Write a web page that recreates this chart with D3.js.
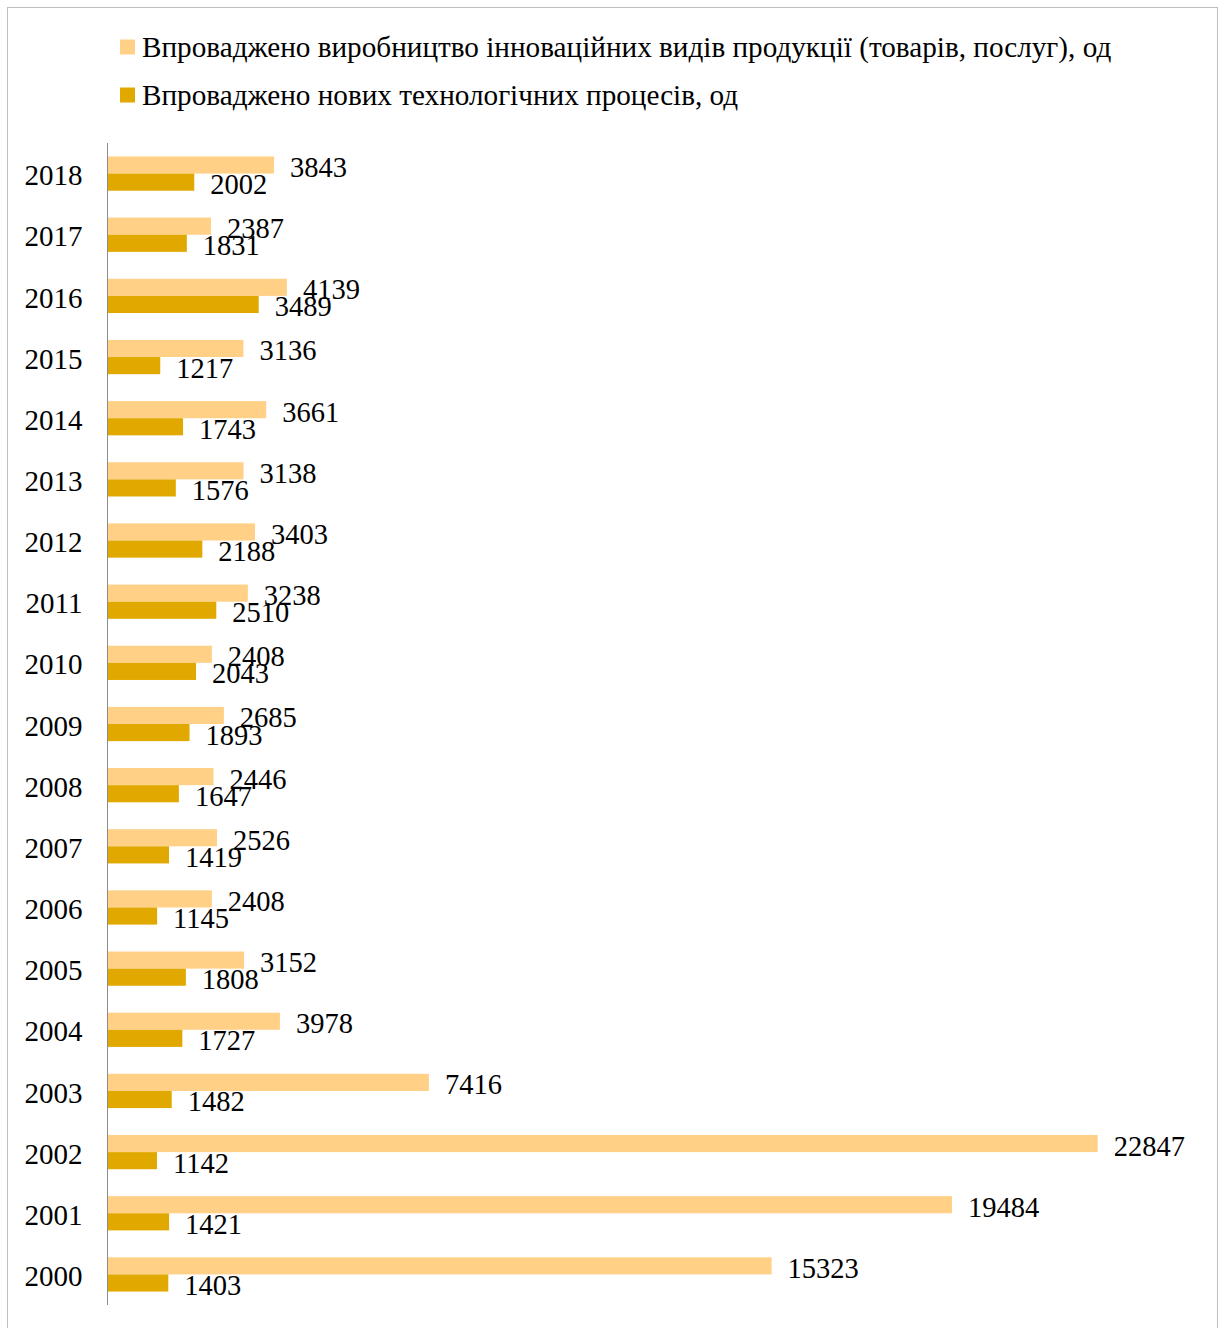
<!DOCTYPE html>
<html>
<head>
<meta charset="utf-8">
<script src="https://cdn.jsdelivr.net/npm/d3@7"></script>
<style>
  html, body { margin: 0; padding: 0; background: #fff; }
  svg { display: block; }
  text { font-family: "Liberation Serif", "Times New Roman", serif; fill: #000; }
</style>
</head>
<body>
<svg id="chart" width="1222" height="1328"></svg>
<script>
// Years, top to bottom
const years = ["2018","2017","2016","2015","2014","2013","2012","2011","2010","2009",
               "2008","2007","2006","2005","2004","2003","2002","2001","2000"];
// Innovative products put into production, units
const products = [3843,2387,4139,3136,3661,3138,3403,3238,2408,2685,
                  2446,2526,2408,3152,3978,7416,22847,19484,15323];
// New technological processes introduced, units
const processes = [2002,1831,3489,1217,1743,1576,2188,2510,2043,1893,
                   1647,1419,1145,1808,1727,1482,1142,1421,1403];
const seriesNames = [
  "Впроваджено виробництво інноваційних видів продукції (товарів, послуг), од",
  "Впроваджено нових технологічних процесів, од"
];
const colors = ["#FFD086", "#E1A900"];

const svg = d3.select("#chart");

// outer frame
svg.append("rect")
  .attr("x", 7.5).attr("y", 7.5)
  .attr("width", 1210).attr("height", 1340)
  .attr("fill", "none").attr("stroke", "#bfbfbf").attr("stroke-width", 1);

const x = d3.scaleLinear().domain([0, 25000]).range([107.5, 1191]);
const y = d3.scaleBand().domain(years).range([143, 1305]).paddingInner(0.44).paddingOuter(0.22);
const sub = d3.scaleBand().domain([0, 1]).range([0, y.bandwidth()]);

// legend
const legend = svg.append("g");
seriesNames.forEach((name, i) => {
  const ly = 47 + i * 48;
  legend.append("rect")
    .attr("x", 120).attr("y", ly - 7.5).attr("width", 15).attr("height", 15)
    .attr("fill", colors[i]);
  legend.append("text")
    .attr("x", 142).attr("y", ly).attr("dy", "0.35em")
    .attr("font-size", 29.2)
    .text(name);
});

const rows = years.map((yr, i) => ({ yr, vals: [products[i], processes[i]] }));

const g = svg.append("g");
const row = g.selectAll("g.row").data(rows).join("g")
  .attr("class", "row")
  .attr("transform", d => `translate(0,${y(d.yr)})`);

row.selectAll("rect").data(d => d.vals).join("rect")
  .attr("x", x(0))
  .attr("y", (v, i) => sub(i))
  .attr("width", v => x(v) - x(0))
  .attr("height", sub.bandwidth())
  .attr("fill", (v, i) => colors[i]);

row.selectAll("text.val").data(d => d.vals).join("text")
  .attr("class", "val")
  .attr("x", v => x(v) + 16)
  .attr("y", (v, i) => sub(i) + sub.bandwidth() / 2 + 2)
  .attr("dy", "0.35em")
  .attr("font-size", 28.5)
  .text(v => v);

// category axis
const yAxis = d3.axisLeft(y).tickSize(0).tickPadding(25);
const ag = svg.append("g").attr("transform", `translate(${x(0)},0)`).call(yAxis);
ag.select(".domain").attr("stroke", "#8c8c8c").attr("d", "M0,143V1305");
ag.selectAll("text")
  .attr("font-size", 29)
  .attr("font-family", "Liberation Serif, Times New Roman, serif")
  .attr("fill", "#000")
  .attr("dy", "0.4em");
</script>
</body>
</html>
